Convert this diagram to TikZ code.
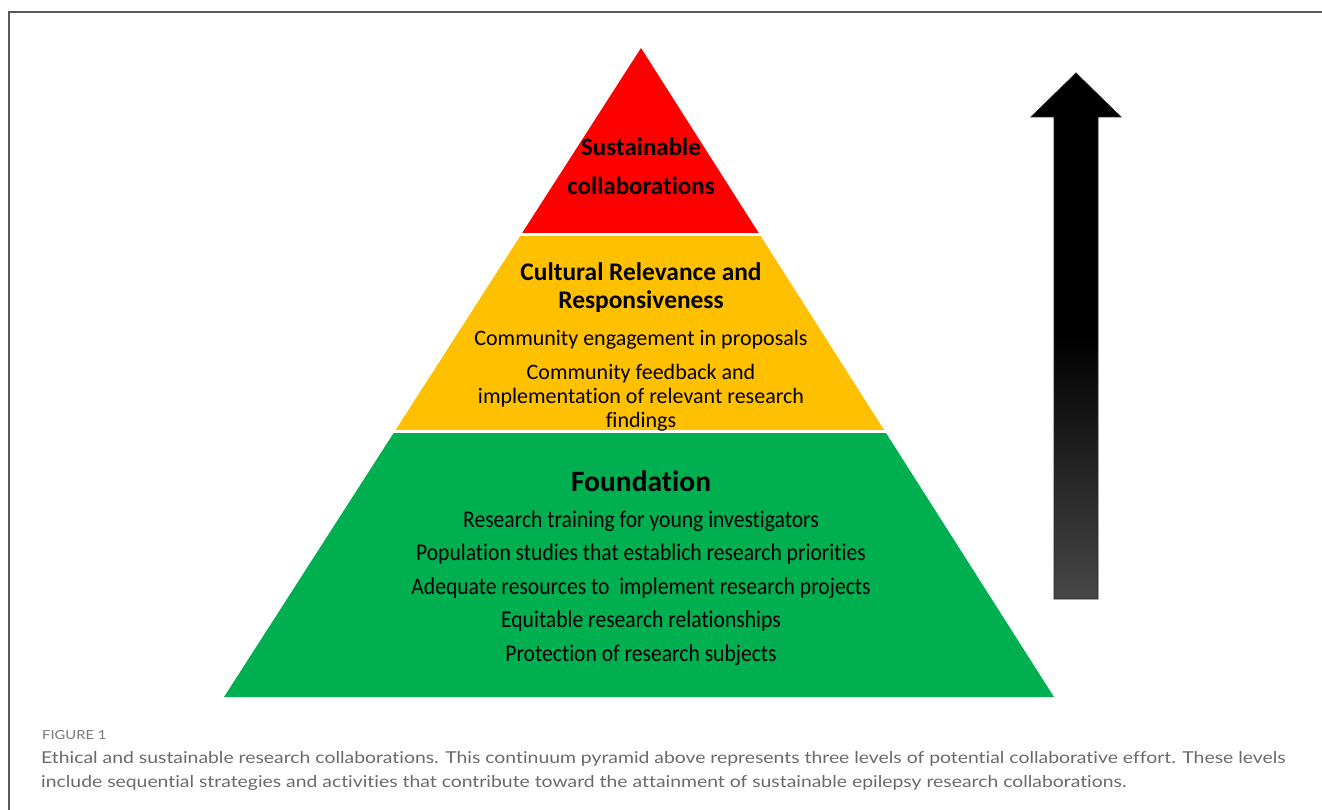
\documentclass[tikz,border=0pt]{standalone}
\usepackage{fontspec}
\setmainfont[Ligatures=NoCommon]{Carlito}
\newfontfamily\capfont[FakeStretch=1.18, Ligatures=NoCommon]{Lato}
\newfontfamily\narrowfont[FakeStretch=0.9, Ligatures=NoCommon]{Carlito}
\usetikzlibrary{calc}

\definecolor{pyrred}{HTML}{FF0000}
\definecolor{pyryellow}{HTML}{FFC000}
\definecolor{pyrgreen}{HTML}{00B050}
\definecolor{arrowgray}{HTML}{474747}
\definecolor{framegray}{HTML}{5A5A5A}
\definecolor{captiongray}{HTML}{6A6A6A}

\pgfdeclareverticalshading{arrowshade}{100bp}{color(0bp)=(arrowgray); color(25bp)=(arrowgray);
  color(50bp)=(black); color(100bp)=(black)}

\tikzset{
  head/.style={align=center, font=\bfseries\fontsize{25.4}{28}\selectfont},
  item/.style={align=center, font=\fontsize{22}{24}\selectfont},
  fitem/.style={font=\narrowfont\fontsize{24}{26}\selectfont},
  capline/.style={anchor=base west, text=captiongray, inner sep=0pt,
    font=\capfont\fontsize{16.4}{24}\selectfont},
}

\begin{document}
\begin{tikzpicture}[x=1pt, y=-1pt]
    \useasboundingbox (0,0) rectangle (1322,810);

    % --- frame ---
    \draw[framegray, line width=1.4pt] (9,810) -- (9,12) -- (1322,12);

    % --- pyramid corners ---
    \coordinate (apex) at (641,48);
    \coordinate (bl) at (224,697);
    \coordinate (br) at (1054,697);

    % --- three levels, cut out of the triangle ---
    \begin{scope}
        \clip (apex) -- (bl) -- (br) -- cycle;
        \fill[pyrred] (200,40) rectangle (1100,233);
        \fill[pyryellow] (200,236) rectangle (1100,430);
        \fill[pyrgreen] (200,433) rectangle (1100,700);
    \end{scope}

    % --- top level ---
    \node[head, font=\bfseries\fontsize{25}{39}\selectfont] (sustain) at (641,166)
        {Sustainable\\collaborations};

    % --- middle level ---
    \node[head] (cultural) at (641,288) {Cultural Relevance and\\Responsiveness};
    \node[item] (engage) at (641,340) {Community engagement in proposals};
    \node[item] (feedback) at (641,398)
        {Community feedback and\\implementation of relevant research\\findings};

    % --- foundation ---
    \node[font=\bfseries\fontsize{29.5}{32}\selectfont] (found) at (641,481) {Foundation};
    \foreach \txt [count=\i] in {Research training for young investigators,
        Population studies that establich research priorities,
        Adequate resources to \ implement research projects,
        Equitable research relationships,
        Protection of research subjects}
        \node[fitem] (fnd\i) at (641,487.5+33.5*\i) {\txt};

    % --- arrow ---
    \shade[shading=arrowshade, draw=black!85, line width=0.8pt]
        (1076,73) -- (1121,117) -- (1098,117) -- (1098,599)
        -- (1054,599) -- (1054,117) -- (1031,117) -- cycle;

    % --- caption ---
    \node[capline, font=\capfont\fontsize{12.5}{14}\selectfont, text=captiongray!90] (figlabel)
        at (42,739) {FIGURE 1};
    \node[capline] (cap1) at (41,763) {Ethical and sustainable research collaborations. This continuum pyramid above represents three levels of potential collaborative effort. These levels};
    \node[capline] (cap2) at (41,787) {include sequential strategies and activities that contribute toward the attainment of sustainable epilepsy research collaborations.};
\end{tikzpicture}
\end{document}
